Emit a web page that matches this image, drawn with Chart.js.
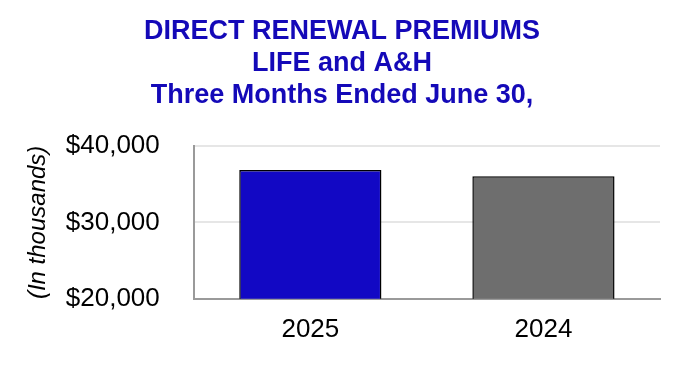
<!DOCTYPE html>
<html>
<head>
<meta charset="utf-8">
<script src="https://cdn.jsdelivr.net/npm/chart.js@4"></script>
<style>
  html, body { margin: 0; padding: 0; background: #fff; }
  #wrap { width: 680px; height: 366px; }
</style>
</head>
<body>
<div id="wrap"><canvas id="premiums"></canvas></div>
<script>
const years = ["2025", "2024"];
const premiums = [36850, 36050];
const barColors = ["#1208C4", "#6E6E6E"];
const titleLines = ["DIRECT RENEWAL PREMIUMS", "LIFE and A&H", "Three Months Ended June 30,"];

new Chart(document.getElementById("premiums"), {
    type: 'bar',
    data: {
        labels: years,
        datasets: [{
            data: premiums,
            backgroundColor: barColors,
            borderColor: "#000",
            borderWidth: 1.5,
            barPercentage: 0.61,
            categoryPercentage: 1.0
        }]
    },
    options: {
        responsive: true,
        maintainAspectRatio: false,
        animation: false,
        layout: {
            padding: { left: 24, right: 20, top: 16, bottom: 6 }
        },
        plugins: {
            legend: { display: false },
            tooltip: { enabled: false },
            title: {
                display: true,
                text: titleLines,
                color: "#1409B8",
                font: { family: "Liberation Sans, Arial", size: 27, weight: 'bold', lineHeight: 1.185 },
                padding: { top: 0, bottom: 34 }
            }
        },
        scales: {
            x: {
                grid: { display: false, drawTicks: false },
                border: { color: "#9a9a9a", width: 2 },
                ticks: {
                    color: "#000",
                    padding: 15,
                    font: { family: "Liberation Sans, Arial", size: 26 }
                }
            },
            y: {
                min: 20000,
                max: 40000,
                ticks: {
                    stepSize: 10000,
                    color: "#000",
                    padding: 34,
                    font: { family: "Liberation Sans, Arial", size: 26 },
                    callback: v => "$" + v.toLocaleString("en-US")
                },
                grid: { color: "#e6e6e6", lineWidth: 2, drawTicks: false },
                border: { color: "#9a9a9a", width: 2 },
                title: {
                    display: true,
                    text: "(In thousands)",
                    color: "#000",
                    padding: { top: 0, bottom: -21 },
                    font: { family: "Liberation Sans, Arial", size: 24, style: 'italic' }
                }
            }
        }
    }
});
</script>
</body>
</html>
